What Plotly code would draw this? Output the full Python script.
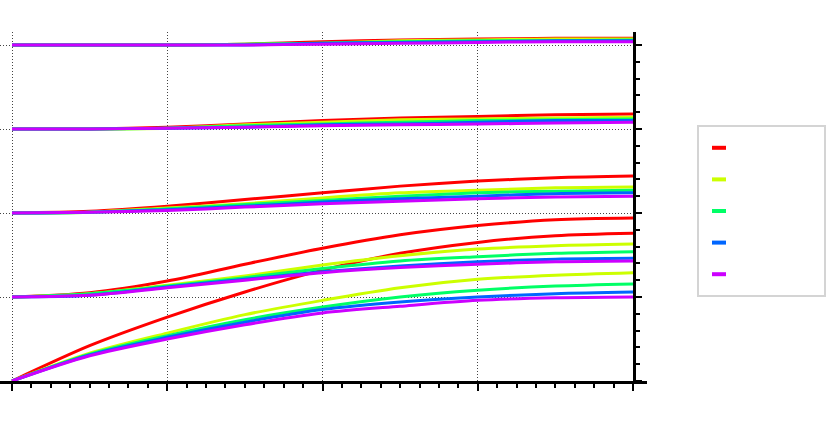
import plotly.graph_objects as go

# x positions of samples
x_vals = [0, 0.5, 1, 1.5, 2, 2.5, 3, 3.5, 4]

series_names = ["\u00a0" * 13] * 5
series_colors = ["#ff0000", "#ccff00", "#00ff66", "#0066ff", "#cc00ff"]

# five curves per colour, each starting at a different base level (0..4)
red = [
    [0, 0.42, 0.76, 1.06, 1.32, 1.52, 1.65, 1.73, 1.76],
    [1.0, 1.05, 1.19, 1.39, 1.58, 1.74, 1.85, 1.92, 1.94],
    [2.0, 2.02, 2.08, 2.16, 2.24, 2.32, 2.38, 2.42, 2.44],
    [3.0, 3.0, 3.02, 3.06, 3.10, 3.13, 3.15, 3.17, 3.18],
    [4.0, 4.0, 4.0, 4.01, 4.04, 4.06, 4.07, 4.08, 4.08],
]
yellow = [
    [0, 0.33, 0.57, 0.79, 0.96, 1.11, 1.21, 1.26, 1.29],
    [1.0, 1.04, 1.14, 1.25, 1.38, 1.49, 1.57, 1.61, 1.63],
    [2.0, 2.01, 2.06, 2.11, 2.18, 2.24, 2.27, 2.30, 2.31],
    [3.0, 3.0, 3.01, 3.05, 3.08, 3.11, 3.12, 3.13, 3.14],
    [4.0, 4.0, 4.0, 4.01, 4.02, 4.05, 4.06, 4.07, 4.07],
]
green = [
    [0, 0.32, 0.54, 0.73, 0.88, 1.0, 1.08, 1.13, 1.155],
    [1.0, 1.04, 1.13, 1.23, 1.34, 1.43, 1.48, 1.52, 1.54],
    [2.0, 2.01, 2.05, 2.10, 2.15, 2.20, 2.24, 2.26, 2.27],
    [3.0, 3.0, 3.01, 3.04, 3.06, 3.08, 3.10, 3.11, 3.12],
    [4.0, 4.0, 4.0, 4.01, 4.02, 4.04, 4.05, 4.05, 4.06],
]
blue = [
    [0, 0.31, 0.52, 0.70, 0.85, 0.94, 1.0, 1.04, 1.06],
    [1.0, 1.02, 1.12, 1.21, 1.30, 1.37, 1.42, 1.45, 1.46],
    [2.0, 2.01, 2.04, 2.08, 2.13, 2.17, 2.20, 2.23, 2.24],
    [3.0, 3.0, 3.01, 3.02, 3.05, 3.06, 3.08, 3.10, 3.10],
    [4.0, 4.0, 4.0, 4.0, 4.02, 4.03, 4.04, 4.05, 4.05],
]
purple = [
    [0, 0.30, 0.50, 0.67, 0.81, 0.89, 0.96, 0.99, 1.0],
    [1.0, 1.02, 1.11, 1.20, 1.29, 1.35, 1.39, 1.42, 1.43],
    [2.0, 2.01, 2.03, 2.07, 2.11, 2.14, 2.17, 2.19, 2.20],
    [3.0, 3.0, 3.01, 3.02, 3.04, 3.05, 3.06, 3.07, 3.08],
    [4.0, 4.0, 4.0, 4.0, 4.01, 4.02, 4.03, 4.04, 4.04],
]
all_series = [red, yellow, green, blue, purple]

# layout constants (pixels)
W, H = 830, 423
PL, PR, PT, PB = 0, 633, 32, 381
px_per_x = (633 - 12) / 4.0
px_per_y = 84.0

fig = go.Figure()
for curves, color in zip(all_series, series_colors):
    for yv in curves:
        fig.add_trace(go.Scatter(
            x=x_vals, y=yv, mode="lines",
            line=dict(color=color, width=3, shape="spline", smoothing=0.85),
            showlegend=False, hoverinfo="skip",
        ))

for name, color in zip(series_names, series_colors):
    fig.add_trace(go.Scatter(
        x=[None], y=[None], mode="markers", name=name,
        marker=dict(symbol="line-ew", size=10, color=color,
                    line=dict(width=4, color=color)),
    ))

plot_h = PB - PT
fig.update_layout(
    width=W, height=H,
    margin=dict(l=PL, r=W - PR, t=PT, b=H - PB, pad=0, autoexpand=False),
    paper_bgcolor="white", plot_bgcolor="white",
    showlegend=True,
    legend=dict(
        x=697 / PR, y=(PB - 125) / plot_h, xanchor="left", yanchor="top",
        bordercolor="#d4d4d4", borderwidth=2, bgcolor="white",
        font=dict(size=22, family="Arial"),
        tracegroupgap=0,
    ),
    xaxis=dict(
        range=[-12 / px_per_x, 4], showgrid=True, gridcolor="#444",
        griddash="1px,2px", gridwidth=1, dtick=1, tick0=0,
        zeroline=False, showline=True, linecolor="black", linewidth=3,
        ticks="outside", ticklen=7, tickwidth=2, tickcolor="black",
        showticklabels=False,
        minor=dict(dtick=0.125, tick0=0, ticks="outside", ticklen=4,
                   tickwidth=1.5, tickcolor="black", showgrid=False),
    ),
    yaxis=dict(
        range=[0, plot_h / px_per_y], side="right", showgrid=True,
        gridcolor="#444", griddash="1px,2px", gridwidth=1, dtick=1, tick0=0,
        zeroline=False, showline=True, linecolor="black", linewidth=3,
        ticks="outside", ticklen=6, tickwidth=2, tickcolor="black",
        showticklabels=False,
        minor=dict(dtick=0.2, tick0=0, ticks="outside", ticklen=4,
                   tickwidth=1.5, tickcolor="black", showgrid=False),
    ),
    shapes=[dict(type="line", xref="paper", yref="paper",
                 x0=1, x1=647 / PR, y0=-1.5 / plot_h, y1=-1.5 / plot_h,
                 line=dict(color="black", width=3))],
)

fig.write_html("out.html", config={"displayModeBar": False},
               post_script="document.body.style.margin='0';document.body.style.overflow='hidden';")
